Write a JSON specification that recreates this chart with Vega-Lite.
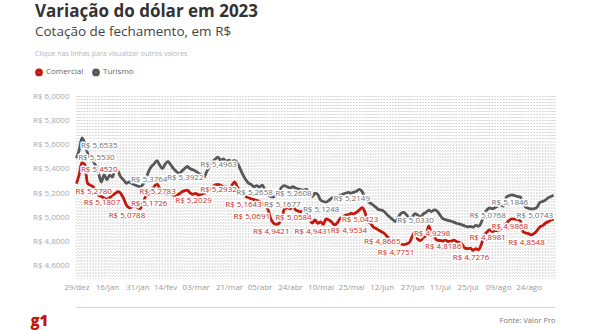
{
"$schema": "https://vega.github.io/schema/vega-lite/v6.json",
"width": 480, "height": 182,
"autosize": {"type": "none"},
"padding": {"left": 75, "top": 96, "right": 35, "bottom": 52},
"background": "#ffffff",
"title": {"text": "Variação do dólar em 2023", "subtitle": "Cotação de fechamento, em R$", "anchor": "start", "frame": "group", "orient": "top", "offset": 11, "dx": -40, "fontSize": 17, "fontWeight": "bold", "color": "#333333", "subtitleFontSize": 13.5, "subtitleColor": "#444444", "subtitlePadding": 4, "font": "Open Sans", "subtitleFont": "Open Sans"},
"data": {"values": [
{"d":"29/dez","Comercial":5.278,"Turismo":5.486,"rC":5.278},
{"d":"02/jan","Comercial":5.351,"Turismo":5.553,"rT":5.553},
{"d":"03/jan","Comercial":5.452,"Turismo":5.654,"rC":5.452,"rT":5.6535},
{"d":"04/jan","Comercial":5.437,"Turismo":5.611,"rC":5.1807},
{"d":"05/jan","Comercial":5.282,"Turismo":5.531},
{"d":"06/jan","Comercial":5.265,"Turismo":5.490},
{"d":"09/jan","Comercial":5.252,"Turismo":5.468},
{"d":"10/jan","Comercial":5.225,"Turismo":5.421},
{"d":"11/jan","Comercial":5.181,"Turismo":5.362},
{"d":"12/jan","Comercial":5.172,"Turismo":5.291},
{"d":"13/jan","Comercial":5.160,"Turismo":5.352},
{"d":"16/jan","Comercial":5.150,"Turismo":5.309},
{"d":"17/jan","Comercial":5.163,"Turismo":5.348,"rC":5.0788},
{"d":"18/jan","Comercial":5.182,"Turismo":5.331},
{"d":"19/jan","Comercial":5.197,"Turismo":5.402},
{"d":"20/jan","Comercial":5.211,"Turismo":5.381},
{"d":"23/jan","Comercial":5.198,"Turismo":5.332},
{"d":"24/jan","Comercial":5.156,"Turismo":5.309},
{"d":"25/jan","Comercial":5.102,"Turismo":5.281},
{"d":"26/jan","Comercial":5.079,"Turismo":5.292},
{"d":"27/jan","Comercial":5.086,"Turismo":5.279,"rC":5.1726,"rT":5.3764},
{"d":"30/jan","Comercial":5.101,"Turismo":5.268},
{"d":"31/jan","Comercial":5.081,"Turismo":5.259},
{"d":"01/fev","Comercial":5.072,"Turismo":5.251,"rC":5.2783},
{"d":"02/fev","Comercial":5.121,"Turismo":5.272},
{"d":"03/fev","Comercial":5.173,"Turismo":5.311},
{"d":"06/fev","Comercial":5.192,"Turismo":5.376},
{"d":"07/fev","Comercial":5.222,"Turismo":5.418},
{"d":"08/fev","Comercial":5.251,"Turismo":5.441},
{"d":"09/fev","Comercial":5.278,"Turismo":5.468},
{"d":"10/fev","Comercial":5.241,"Turismo":5.431},
{"d":"13/fev","Comercial":5.221,"Turismo":5.402},
{"d":"14/fev","Comercial":5.203,"Turismo":5.439},
{"d":"15/fev","Comercial":5.192,"Turismo":5.461,"rT":5.3922},
{"d":"16/fev","Comercial":5.201,"Turismo":5.432},
{"d":"17/fev","Comercial":5.181,"Turismo":5.401},
{"d":"22/fev","Comercial":5.183,"Turismo":5.379,"rC":5.2029},
{"d":"23/fev","Comercial":5.192,"Turismo":5.361},
{"d":"24/fev","Comercial":5.210,"Turismo":5.381},
{"d":"27/fev","Comercial":5.219,"Turismo":5.402},
{"d":"28/fev","Comercial":5.225,"Turismo":5.419},
{"d":"01/mar","Comercial":5.201,"Turismo":5.401},
{"d":"02/mar","Comercial":5.190,"Turismo":5.392},
{"d":"03/mar","Comercial":5.198,"Turismo":5.381},
{"d":"06/mar","Comercial":5.183,"Turismo":5.362},
{"d":"07/mar","Comercial":5.191,"Turismo":5.351,"rC":5.2932,"rT":5.4963},
{"d":"08/mar","Comercial":5.199,"Turismo":5.331},
{"d":"09/mar","Comercial":5.203,"Turismo":5.378},
{"d":"10/mar","Comercial":5.224,"Turismo":5.421},
{"d":"13/mar","Comercial":5.248,"Turismo":5.452},
{"d":"14/mar","Comercial":5.268,"Turismo":5.478},
{"d":"15/mar","Comercial":5.271,"Turismo":5.496},
{"d":"16/mar","Comercial":5.265,"Turismo":5.471},
{"d":"17/mar","Comercial":5.252,"Turismo":5.481},
{"d":"20/mar","Comercial":5.250,"Turismo":5.462,"rC":5.1643},
{"d":"21/mar","Comercial":5.241,"Turismo":5.471},
{"d":"22/mar","Comercial":5.262,"Turismo":5.458},
{"d":"23/mar","Comercial":5.293,"Turismo":5.469,"rC":5.0691},
{"d":"24/mar","Comercial":5.251,"Turismo":5.448,"rT":5.2658},
{"d":"27/mar","Comercial":5.212,"Turismo":5.401},
{"d":"28/mar","Comercial":5.189,"Turismo":5.352},
{"d":"29/mar","Comercial":5.171,"Turismo":5.311},
{"d":"30/mar","Comercial":5.164,"Turismo":5.282},
{"d":"31/mar","Comercial":5.152,"Turismo":5.271},
{"d":"03/abr","Comercial":5.146,"Turismo":5.252,"rC":4.9421},
{"d":"04/abr","Comercial":5.139,"Turismo":5.261},
{"d":"05/abr","Comercial":5.130,"Turismo":5.249},
{"d":"06/abr","Comercial":5.112,"Turismo":5.266},
{"d":"10/abr","Comercial":5.098,"Turismo":5.221,"rT":5.1677},
{"d":"11/abr","Comercial":5.069,"Turismo":5.189},
{"d":"12/abr","Comercial":4.992,"Turismo":5.172},
{"d":"13/abr","Comercial":4.953,"Turismo":5.168},
{"d":"14/abr","Comercial":4.942,"Turismo":5.181,"rC":5.0584,"rT":5.2608},
{"d":"17/abr","Comercial":4.951,"Turismo":5.203},
{"d":"18/abr","Comercial":4.991,"Turismo":5.249},
{"d":"19/abr","Comercial":5.068,"Turismo":5.261},
{"d":"20/abr","Comercial":5.079,"Turismo":5.251},
{"d":"24/abr","Comercial":5.071,"Turismo":5.242},
{"d":"25/abr","Comercial":5.085,"Turismo":5.252},
{"d":"26/abr","Comercial":5.062,"Turismo":5.241,"rC":4.9431},
{"d":"27/abr","Comercial":5.051,"Turismo":5.232},
{"d":"28/abr","Comercial":5.046,"Turismo":5.229},
{"d":"02/mai","Comercial":5.058,"Turismo":5.225,"rT":5.1248},
{"d":"03/mai","Comercial":5.031,"Turismo":5.231},
{"d":"04/mai","Comercial":4.991,"Turismo":5.201},
{"d":"05/mai","Comercial":4.952,"Turismo":5.171},
{"d":"08/mai","Comercial":4.979,"Turismo":5.199},
{"d":"09/mai","Comercial":4.951,"Turismo":5.188},
{"d":"10/mai","Comercial":4.962,"Turismo":5.142},
{"d":"11/mai","Comercial":4.943,"Turismo":5.131},
{"d":"12/mai","Comercial":4.988,"Turismo":5.125},
{"d":"15/mai","Comercial":4.978,"Turismo":5.139},
{"d":"16/mai","Comercial":4.961,"Turismo":5.158,"rC":4.9534},
{"d":"17/mai","Comercial":4.938,"Turismo":5.169,"rT":5.2149},
{"d":"18/mai","Comercial":4.953,"Turismo":5.171},
{"d":"19/mai","Comercial":4.989,"Turismo":5.181},
{"d":"22/mai","Comercial":5.002,"Turismo":5.189,"rC":5.0423},
{"d":"23/mai","Comercial":5.018,"Turismo":5.198},
{"d":"24/mai","Comercial":5.021,"Turismo":5.205},
{"d":"25/mai","Comercial":5.032,"Turismo":5.199},
{"d":"26/mai","Comercial":5.029,"Turismo":5.208},
{"d":"29/mai","Comercial":5.042,"Turismo":5.215},
{"d":"30/mai","Comercial":5.061,"Turismo":5.231},
{"d":"31/mai","Comercial":5.079,"Turismo":5.212},
{"d":"01/jun","Comercial":5.042,"Turismo":5.161,"rC":4.8665},
{"d":"02/jun","Comercial":4.963,"Turismo":5.131},
{"d":"05/jun","Comercial":4.951,"Turismo":5.116},
{"d":"06/jun","Comercial":4.921,"Turismo":5.101},
{"d":"07/jun","Comercial":4.908,"Turismo":5.082},
{"d":"09/jun","Comercial":4.894,"Turismo":5.063,"rC":4.7751},
{"d":"12/jun","Comercial":4.881,"Turismo":5.059},
{"d":"13/jun","Comercial":4.867,"Turismo":5.046},
{"d":"14/jun","Comercial":4.842,"Turismo":5.021},
{"d":"15/jun","Comercial":4.819,"Turismo":5.001},
{"d":"16/jun","Comercial":4.801,"Turismo":4.982},
{"d":"19/jun","Comercial":4.791,"Turismo":4.965},
{"d":"20/jun","Comercial":4.786,"Turismo":5.001,"rT":5.0330},
{"d":"21/jun","Comercial":4.781,"Turismo":5.033},
{"d":"22/jun","Comercial":4.775,"Turismo":5.041},
{"d":"23/jun","Comercial":4.781,"Turismo":5.021},
{"d":"26/jun","Comercial":4.792,"Turismo":4.992},
{"d":"27/jun","Comercial":4.841,"Turismo":5.001},
{"d":"28/jun","Comercial":4.879,"Turismo":5.031,"rC":4.9298},
{"d":"29/jun","Comercial":4.821,"Turismo":5.019},
{"d":"30/jun","Comercial":4.809,"Turismo":5.002},
{"d":"03/jul","Comercial":4.831,"Turismo":5.028},
{"d":"04/jul","Comercial":4.852,"Turismo":5.041,"rC":4.8186},
{"d":"05/jul","Comercial":4.930,"Turismo":5.059},
{"d":"06/jul","Comercial":4.861,"Turismo":5.048},
{"d":"07/jul","Comercial":4.838,"Turismo":5.061},
{"d":"10/jul","Comercial":4.812,"Turismo":5.052},
{"d":"11/jul","Comercial":4.809,"Turismo":5.021},
{"d":"12/jul","Comercial":4.805,"Turismo":4.991},
{"d":"13/jul","Comercial":4.812,"Turismo":4.981},
{"d":"14/jul","Comercial":4.801,"Turismo":4.975},
{"d":"17/jul","Comercial":4.803,"Turismo":4.968},
{"d":"18/jul","Comercial":4.812,"Turismo":4.961,"rC":4.7276},
{"d":"19/jul","Comercial":4.801,"Turismo":4.951},
{"d":"20/jul","Comercial":4.792,"Turismo":4.946},
{"d":"21/jul","Comercial":4.779,"Turismo":4.938},
{"d":"24/jul","Comercial":4.746,"Turismo":4.929},
{"d":"25/jul","Comercial":4.741,"Turismo":4.921},
{"d":"26/jul","Comercial":4.746,"Turismo":4.926,"rC":4.8981,"rT":5.0768},
{"d":"27/jul","Comercial":4.728,"Turismo":4.919},
{"d":"28/jul","Comercial":4.741,"Turismo":4.934},
{"d":"31/jul","Comercial":4.733,"Turismo":4.926},
{"d":"01/ago","Comercial":4.781,"Turismo":4.962},
{"d":"02/ago","Comercial":4.852,"Turismo":5.031},
{"d":"03/ago","Comercial":4.879,"Turismo":5.062},
{"d":"04/ago","Comercial":4.898,"Turismo":5.077},
{"d":"07/ago","Comercial":4.882,"Turismo":5.071,"rC":4.9868,"rT":5.1846},
{"d":"08/ago","Comercial":4.891,"Turismo":5.082},
{"d":"09/ago","Comercial":4.889,"Turismo":5.091},
{"d":"10/ago","Comercial":4.908,"Turismo":5.101},
{"d":"11/ago","Comercial":4.921,"Turismo":5.092},
{"d":"14/ago","Comercial":4.952,"Turismo":5.168},
{"d":"15/ago","Comercial":4.976,"Turismo":5.179,"rC":4.8548},
{"d":"16/ago","Comercial":4.987,"Turismo":5.185},
{"d":"17/ago","Comercial":4.985,"Turismo":5.179},
{"d":"18/ago","Comercial":4.981,"Turismo":5.171,"rT":5.0743},
{"d":"21/ago","Comercial":4.975,"Turismo":5.168},
{"d":"22/ago","Comercial":4.882,"Turismo":5.121},
{"d":"23/ago","Comercial":4.871,"Turismo":5.082},
{"d":"24/ago","Comercial":4.866,"Turismo":5.074},
{"d":"25/ago","Comercial":4.855,"Turismo":5.069},
{"d":"28/ago","Comercial":4.867,"Turismo":5.071},
{"d":"29/ago","Comercial":4.891,"Turismo":5.083},
{"d":"30/ago","Comercial":4.921,"Turismo":5.121},
{"d":"31/ago","Comercial":4.932,"Turismo":5.131},
{"d":"01/set","Comercial":4.951,"Turismo":5.142},
{"d":"04/set","Comercial":4.963,"Turismo":5.161},
{"d":"05/set","Comercial":4.977,"Turismo":5.172},
{"d":"06/set","Comercial":4.985,"Turismo":5.181}
]},
"layer": [
{"mark": {"type": "rule", "color": "#cfcfcf", "strokeWidth": 1, "strokeDash": [1, 2]},
 "encoding": {"x": {"field": "d", "type": "ordinal", "sort": null, "scale": {"type": "point", "padding": 0.5},
   "axis": {"orient": "bottom", "offset": 29, "labels": false, "ticks": false, "grid": false, "domain": true, "domainColor": "#d5d5d5", "title": "Fonte: Valor Pro", "titleAnchor": "end", "titleFontSize": 7.5, "titleFontWeight": "normal", "titleColor": "#777777", "titlePadding": 9}}}},
{"transform": [{"fold": ["rC", "rT"], "as": ["rs", "valor"]}, {"filter": "isValid(datum.valor)"}],
 "mark": {"type": "text", "align": "left", "baseline": "middle", "dx": -1, "dy": 8, "fontSize": 8, "opacity": 0},
 "encoding": {"x": {"field": "d", "type": "ordinal", "sort": null, "axis": null},
   "y": {"field": "valor", "type": "quantitative", "axis": {"orient": "right", "values": [4.5,4.525,4.55,4.575,4.6,4.625,4.65,4.675,4.7,4.725,4.75,4.775,4.8,4.825,4.85,4.875,4.9,4.925,4.95,4.975,5,5.025,5.05,5.075,5.1,5.125,5.15,5.175,5.2,5.225,5.25,5.275,5.3,5.325,5.35,5.375,5.4,5.425,5.45,5.475,5.5,5.525,5.55,5.575,5.6,5.625,5.65,5.675,5.7,5.725,5.75,5.775,5.8,5.825,5.85,5.875,5.9,5.925,5.95,5.975,6], "labels": false, "ticks": false, "domain": false, "grid": true, "gridColor": "#cfcfcf", "gridDash": [1, 2], "title": null}},
   "text": {"field": "valor", "type": "quantitative", "format": "$.4f"}}},
{"transform": [{"fold": ["Comercial", "Turismo"], "as": ["serie", "valor"]}],
 "mark": {"type": "line", "strokeWidth": 2.8, "interpolate": "monotone"},
 "encoding": {
  "x": {"field": "d", "type": "ordinal", "sort": null,
    "axis": {"orient": "bottom", "values": ["29/dez","16/jan","31/jan","14/fev","03/mar","21/mar","05/abr","24/abr","10/mai","25/mai","12/jun","27/jun","11/jul","25/jul","09/ago","24/ago"], "labelFontSize": 8, "labelColor": "#999999", "labelPadding": 5, "labelAngle": 0, "domain": false, "ticks": false, "grid": false, "title": null}},
  "y": {"field": "valor", "type": "quantitative", "scale": {"domain": [4.5, 6.0], "nice": false, "zero": false},
    "axis": {"orient": "left", "values": [4.6, 4.8, 5.0, 5.2, 5.4, 5.6, 5.8, 6.0],
      "format": "$.4f", "labelFontSize": 8, "labelColor": "#aaaaaa", "labelPadding": 6, "ticks": false, "domain": false, "grid": false,
      "title": "g1", "titleAngle": 0, "titleX": -45, "titleY": 229, "titleAlign": "left", "titleBaseline": "alphabetic", "titleFontSize": 15, "titleFontWeight": 800, "titleColor": "#c4170c"}},
  "color": {"field": "serie", "type": "nominal", "scale": {"domain": ["Comercial", "Turismo"], "range": ["#c4170c", "#575757"]},
    "legend": {"orient": "none", "legendX": -40, "legendY": -46, "direction": "horizontal", "title": "Clique nas linhas para visualizar outros valores", "titleFontSize": 7, "titleFontWeight": "normal", "titleColor": "#b5b5b5", "titlePadding": 11, "symbolType": "circle", "symbolSize": 18, "symbolStrokeWidth": 3.5, "labelFontSize": 8, "labelColor": "#666666", "labelOffset": 3, "columnPadding": 2}}
 }},
{"transform": [{"fold": ["rC", "rT"], "as": ["rs", "valor"]}, {"filter": "isValid(datum.valor)"}],
 "mark": {"type": "text", "align": "left", "baseline": "middle", "dx": -1, "dy": 8, "fontSize": 8, "stroke": "#ffffff", "strokeWidth": 3, "fill": "#ffffff", "strokeJoin": "round"},
 "encoding": {"x": {"field": "d", "type": "ordinal", "sort": null, "axis": null}, "y": {"field": "valor", "type": "quantitative", "axis": null}, "text": {"field": "valor", "type": "quantitative", "format": "$.4f"}}},
{"transform": [{"fold": ["rC", "rT"], "as": ["rs", "valor"]}, {"filter": "isValid(datum.valor)"}],
 "mark": {"type": "text", "align": "left", "baseline": "middle", "dx": -1, "dy": 8, "fontSize": 8},
 "encoding": {"x": {"field": "d", "type": "ordinal", "sort": null, "axis": null}, "y": {"field": "valor", "type": "quantitative", "axis": null}, "text": {"field": "valor", "type": "quantitative", "format": "$.4f"},
   "color": {"field": "rs", "type": "nominal", "scale": {"domain": ["rC", "rT"], "range": ["#cc2a22", "#6e6e6e"]}, "legend": null}}}
],
"resolve": {"axis": {"x": "independent", "y": "independent"}, "scale": {"color": "independent"}},
"config": {"font": "Open Sans", "view": {"stroke": null}, "locale": {"number": {"decimal": ",", "thousands": ".", "grouping": [3], "currency": ["R$ ", ""]}}}
}
